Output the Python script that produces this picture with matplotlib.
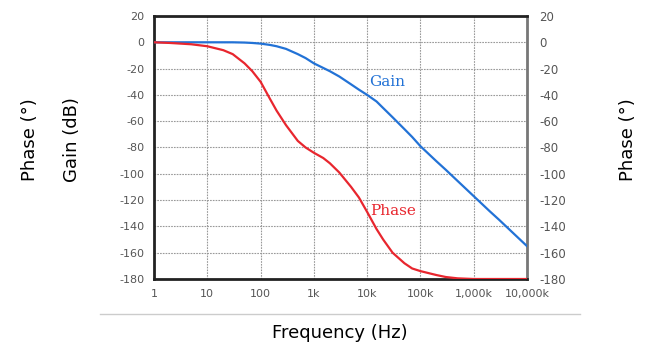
import matplotlib
matplotlib.use('Agg')
import matplotlib.pyplot as plt
import numpy as np

plt.rcParams['axes.unicode_minus'] = False

freq_g = [1, 10, 30, 50, 70, 100, 150, 200, 300, 500, 700, 1000, 1500, 2000,
          3000, 5000, 7000, 10000, 15000, 20000, 30000, 50000, 70000, 100000,
          200000, 300000, 500000, 1000000, 2000000, 3000000, 5000000, 10000000]
gain = [0, 0, 0, -0.2, -0.5, -1, -2, -3, -5, -9, -12, -16, -19.5, -22,
        -26, -32, -36, -40, -45, -50, -57, -66, -72, -79,
        -90.5, -97, -105.5, -117, -128.5, -135, -143.5, -155]

freq_p = [1, 2, 5, 10, 20, 30, 50, 70, 100, 150, 200, 300, 500, 700, 1000,
          1500, 2000, 3000, 5000, 7000, 10000, 15000, 20000, 30000, 50000,
          70000, 100000, 200000, 300000, 500000, 1000000, 10000000]
phase = [0, -0.5, -1.5, -3, -6, -9, -16, -22, -30, -43, -52, -63, -75, -80, -84,
         -88, -92, -99, -110, -118, -129, -142, -150, -160, -168,
         -172, -174, -177, -178.5, -179.5, -180, -180]

xticks = [1, 10, 100, 1000, 10000, 100000, 1000000, 10000000]
xlabels = ['1', '10', '100', '1k', '10k', '100k', '1,000k', '10,000k']
yticks = list(range(-180, 21, 20))

blue = '#2272d6'
red = '#e8262e'
gray = '#555555'

fig = plt.figure(figsize=(6.45, 3.47), dpi=100)
ax = fig.add_axes([154/645, 68/347, 373/645, 263/347])

ax.plot(freq_g, gain, color=blue, lw=1.6, zorder=3)
ax.plot(freq_p, phase, color=red, lw=1.6, zorder=3)

ax.set_xscale('log')
ax.set_xlim(1, 1e7)
ax.set_ylim(-180, 20)
ax.set_xticks(xticks)
ax.set_xticklabels(xlabels)
ax.minorticks_off()
ax.set_yticks(yticks)
ax.grid(True, color='#999999', linestyle=(0, (1.5, 1)), lw=0.8)
ax.tick_params(length=0, labelsize=8, labelcolor=gray, pad=7)

for s in ['left', 'bottom', 'top']:
    ax.spines[s].set_linewidth(2)
    ax.spines[s].set_color('#222222')
ax.spines['right'].set_linewidth(2)
ax.spines['right'].set_color('#777777')

ax2 = ax.twinx()
ax2.set_ylim(-180, 20)
ax2.set_yticks(yticks)
ax2.tick_params(length=0, labelsize=8.5, labelcolor=gray, pad=9)
for s in ax2.spines.values():
    s.set_visible(False)

ax.text(11000, -33, 'Gain', color=blue, fontsize=11, family='DejaVu Serif')
ax.text(11500, -131, 'Phase', color=red, fontsize=11, family='DejaVu Serif')

fig.text(30/645, 1 - 140/347, 'Phase (°)', rotation=90, ha='center', va='center', fontsize=13)
fig.text(72/645, 1 - 140/347, 'Gain (dB)', rotation=90, ha='center', va='center', fontsize=13)
fig.text(628/645, 1 - 140/347, 'Phase (°)', rotation=90, ha='center', va='center', fontsize=13)
fig.text(340/645, 1 - 333/347, 'Frequency (Hz)', ha='center', va='center', fontsize=13)
fig.add_artist(plt.Line2D([100/645, 580/645], [1 - 314/347, 1 - 314/347],
                          color='#cccccc', lw=1))

fig.savefig('out.png', dpi=100)
